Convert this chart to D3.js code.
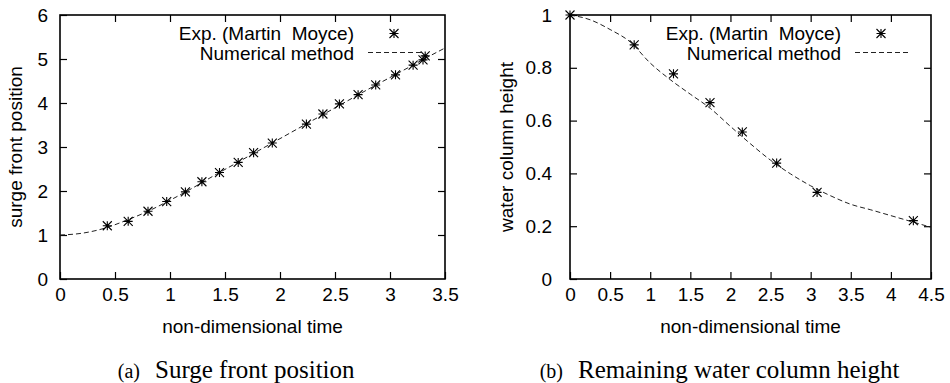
<!DOCTYPE html>
<html>
<head>
<meta charset="utf-8">
<script src="https://cdnjs.cloudflare.com/ajax/libs/d3/7.8.5/d3.min.js"></script>
<style>
  body { margin: 0; background: #fff; }
  svg { display: block; }
  .tick text { font-family: "Liberation Sans", Arial, sans-serif; font-size: 19px; fill: #000; }
  .lbl { font-family: "Liberation Sans", Arial, sans-serif; font-size: 19px; fill: #000; white-space: pre; }
  .cap { font-family: "Liberation Serif", "Times New Roman", serif; fill: #000; white-space: pre; }
</style>
</head>
<body>
<svg id="fig" width="950" height="383"></svg>
<script>
// (a) surge front position
var expTimeA = [0.43, 0.62, 0.80, 0.97, 1.14, 1.29, 1.45, 1.62, 1.76, 1.93, 2.24, 2.39, 2.54, 2.71, 2.87, 3.05, 3.21, 3.30, 3.32];
var expSurge = [1.21, 1.31, 1.54, 1.76, 1.98, 2.21, 2.42, 2.65, 2.87, 3.09, 3.52, 3.75, 3.98, 4.19, 4.41, 4.64, 4.86, 4.98, 5.07];
var numTimeA = [0, 0.2, 0.4, 0.6, 0.8, 1.0, 1.2, 1.4, 1.6, 1.8, 2.0, 2.2, 2.4, 2.6, 2.8, 3.0, 3.2, 3.4, 3.5];
var numSurge = [1.0, 1.04, 1.15, 1.33, 1.54, 1.79, 2.06, 2.35, 2.63, 2.91, 3.19, 3.47, 3.75, 4.03, 4.31, 4.58, 4.85, 5.12, 5.25];

// (b) remaining water column height
var expTimeB = [0, 0.80, 1.29, 1.745, 2.148, 2.576, 3.08, 4.28];
var expHeight = [1.0, 0.887, 0.777, 0.668, 0.557, 0.439, 0.328, 0.221];
var numTimeB = [0, 0.25, 0.5, 0.75, 1.0, 1.25, 1.5, 1.75, 2.0, 2.25, 2.5, 2.75, 3.0, 3.25, 3.5, 3.75, 4.0, 4.25, 4.5];
var numHeight = [1.0, 0.982, 0.945, 0.898, 0.818, 0.755, 0.700, 0.646, 0.578, 0.512, 0.450, 0.398, 0.353, 0.315, 0.283, 0.262, 0.240, 0.218, 0.196];

var xTicksA = [0, 0.5, 1, 1.5, 2, 2.5, 3, 3.5];
var yTicksA = [0, 1, 2, 3, 4, 5, 6];
var xTicksB = [0, 0.5, 1, 1.5, 2, 2.5, 3, 3.5, 4, 4.5];
var yTicksB = [0, 0.2, 0.4, 0.6, 0.8, 1];

var legendLabels = ["Exp. (Martin  Moyce)", "Numerical method"];

var svg = d3.select("#fig");
var tick = 7;

function star(g, x, y) {
  var r = 4.5;
  g.append("path")
    .attr("d", "M" + (x - r) + "," + y + "H" + (x + r) +
               "M" + x + "," + (y - r) + "V" + (y + r) +
               "M" + (x - r) + "," + (y - r) + "L" + (x + r) + "," + (y + r) +
               "M" + (x - r) + "," + (y + r) + "L" + (x + r) + "," + (y - r))
    .attr("stroke", "#000")
    .attr("stroke-width", 1.1)
    .attr("fill", "none");
}

function panel(o) {
  var x = d3.scaleLinear().domain(o.xDomain).range(o.xRange);
  var y = d3.scaleLinear().domain(o.yDomain).range([279, 15]);
  var g = svg.append("g");

  // ticks on all four sides, pointing inward
  g.append("g").attr("transform", "translate(0," + y.range()[0] + ")")
    .call(d3.axisBottom(x).tickValues(o.xTicks).tickSize(-tick).tickPadding(9).tickFormat(d3.format("")))
    .call(function(s) { s.select(".domain").remove(); });
  g.append("g").attr("transform", "translate(0," + y.range()[1] + ")")
    .call(d3.axisTop(x).tickValues(o.xTicks.slice(1, -1)).tickSize(-tick).tickFormat(""))
    .call(function(s) { s.select(".domain").remove(); });
  g.append("g").attr("transform", "translate(" + x.range()[0] + ",0)")
    .call(d3.axisLeft(y).tickValues(o.yTicks).tickSize(-tick).tickPadding(o.yPad).tickFormat(d3.format("")))
    .call(function(s) { s.select(".domain").remove(); });
  g.append("g").attr("transform", "translate(" + x.range()[1] + ",0)")
    .call(d3.axisRight(y).tickValues(o.yTicks.slice(1, -1)).tickSize(-tick).tickFormat(""))
    .call(function(s) { s.select(".domain").remove(); });
  g.selectAll(".tick line").attr("stroke", "#000").attr("stroke-width", 1.2);

  g.append("rect")
    .attr("x", x.range()[0]).attr("y", y.range()[1])
    .attr("width", x.range()[1] - x.range()[0])
    .attr("height", y.range()[0] - y.range()[1])
    .attr("fill", "none").attr("stroke", "#000").attr("stroke-width", 1.6);

  // numerical line
  var line = d3.line().x(function(d) { return x(d[0]); }).y(function(d) { return y(d[1]); }).curve(d3.curveMonotoneX);
  g.append("path")
    .datum(d3.zip(o.numT, o.numV))
    .attr("d", line)
    .attr("fill", "none").attr("stroke", "#222").attr("stroke-width", 1)
    .attr("stroke-dasharray", "5,3");

  // experimental points
  d3.zip(o.expT, o.expV).forEach(function(d) { star(g, x(d[0]), y(d[1])); });

  // legend
  g.append("text").attr("class", "lbl").attr("x", o.legX).attr("y", 39.5)
    .attr("text-anchor", "end").text(legendLabels[0]);
  g.append("text").attr("class", "lbl").attr("x", o.legX).attr("y", 59.5)
    .attr("text-anchor", "end").text(legendLabels[1]);
  star(g, o.legSym, 33.5);
  g.append("line")
    .attr("x1", o.legSym - 26).attr("x2", o.legSym + 28)
    .attr("y1", 52.5).attr("y2", 52.5)
    .attr("stroke", "#222").attr("stroke-width", 1).attr("stroke-dasharray", "5,3");

  // axis titles
  g.append("text").attr("class", "lbl")
    .attr("x", (x.range()[0] + x.range()[1]) / 2).attr("y", 333)
    .attr("text-anchor", "middle").text("non-dimensional time");
  g.append("text").attr("class", "lbl")
    .attr("transform", "translate(" + o.yTitleX + ",147) rotate(-90)")
    .attr("text-anchor", "middle").text(o.yTitle);

  // caption
  g.append("text").attr("class", "cap")
    .attr("x", o.capX).attr("y", 378).attr("text-anchor", "end")
    .attr("font-size", "20px").text(o.capTag);
  g.append("text").attr("class", "cap")
    .attr("x", o.capX + 15).attr("y", 378)
    .attr("font-size", "25px").text(o.capText);
}

panel({
  xDomain: [0, 3.5], xRange: [60, 445], yDomain: [0, 6],
  xTicks: xTicksA, yTicks: yTicksA, yPad: 12,
  numT: numTimeA, numV: numSurge, expT: expTimeA, expV: expSurge,
  legX: 354, legSym: 394,
  yTitle: "surge front position", yTitleX: 22,
  capTag: "(a)", capText: "Surge front position", capX: 140
});

panel({
  xDomain: [0, 4.5], xRange: [570, 931], yDomain: [0, 1],
  xTicks: xTicksB, yTicks: yTicksB, yPad: 18,
  numT: numTimeB, numV: numHeight, expT: expTimeB, expV: expHeight,
  legX: 841, legSym: 881,
  yTitle: "water column height", yTitleX: 513,
  capTag: "(b)", capText: "Remaining water column height", capX: 563
});
</script>
</body>
</html>
